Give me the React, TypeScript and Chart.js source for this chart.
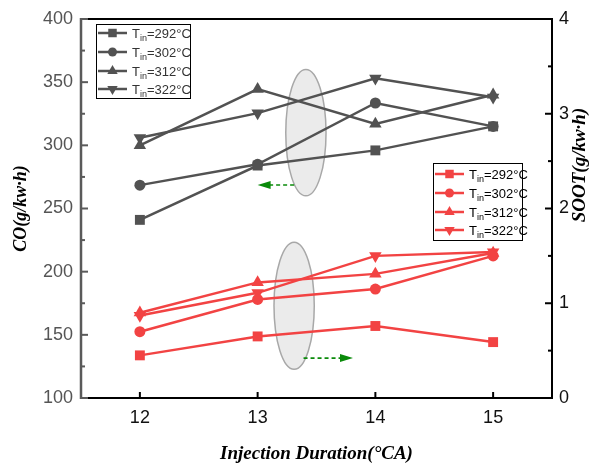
import React, { useEffect, useRef } from 'react';
import { Chart, registerables } from 'chart.js';

Chart.register(...registerables);

// ---- data ----
const injectionDuration = [12, 13, 14, 15];
const xTickValues = [12, 13, 14, 15];
const tinLabels = ['292', '302', '312', '322'];
const co292 = [241, 284, 296, 315];
const co302 = [268.5, 285, 333.5, 315];
const co312 = [300, 344.5, 317, 340];
const co322 = [306, 325.5, 353, 338];
const soot292 = [0.45, 0.65, 0.76, 0.59];
const soot302 = [0.7, 1.04, 1.15, 1.5];
const soot312 = [0.9, 1.22, 1.31, 1.53];
const soot322 = [0.87, 1.11, 1.5, 1.54];

const GRAY = '#525252';
const RED = '#f24343';
const GREEN = '#0a8a0a';

const markerStyles = ['rect', 'circle', 'triangle', 'triangle'];
const markerRot = [0, 0, 0, 180];
const markerRadius = [7, 5.5, 7.2, 7.2];

const toXY = (ys: number[]) => ys.map((y, i) => ({ x: injectionDuration[i], y }));

function drawMarker(ctx: CanvasRenderingContext2D, kind: number, x: number, y: number, r: number) {
  ctx.beginPath();
  if (kind === 0) {
    const s = r * Math.SQRT1_2;
    ctx.rect(x - s, y - s, 2 * s, 2 * s);
  } else if (kind === 1) {
    ctx.arc(x, y, r, 0, Math.PI * 2);
  } else {
    const d = kind === 2 ? 1 : -1;
    ctx.moveTo(x, y - d * r);
    ctx.lineTo(x + r * 0.866, y + d * r * 0.5);
    ctx.lineTo(x - r * 0.866, y + d * r * 0.5);
    ctx.closePath();
  }
  ctx.fill();
}

function drawLegend(ctx: CanvasRenderingContext2D, bx: number, by: number, bw: number, bh: number, color: string, textColor: string, rows: number[]) {
  ctx.save();
  ctx.fillStyle = '#fff';
  ctx.fillRect(bx, by, bw, bh);
  ctx.strokeStyle = '#000';
  ctx.lineWidth = 1;
  ctx.strokeRect(bx + 0.5, by + 0.5, bw, bh);
  tinLabels.forEach((t, i) => {
    const y = rows[i];
    const lx0 = bx + 2;
    const lx1 = bx + 31;
    const mx = (lx0 + lx1) / 2;
    ctx.strokeStyle = color;
    ctx.lineWidth = 2.5;
    ctx.beginPath();
    ctx.moveTo(lx0, y);
    ctx.lineTo(lx1, y);
    ctx.stroke();
    ctx.fillStyle = color;
    drawMarker(ctx, i, mx, y, i === 1 ? 4.5 : 6);
    ctx.fillStyle = textColor;
    ctx.textBaseline = 'alphabetic';
    ctx.textAlign = 'left';
    let tx = bx + 36;
    ctx.font = '13px "Liberation Sans", Arial, sans-serif';
    ctx.fillText('T', tx, y + 5);
    tx += ctx.measureText('T').width;
    ctx.font = '9px "Liberation Sans", Arial, sans-serif';
    ctx.fillText('in', tx, y + 8);
    tx += ctx.measureText('in').width;
    ctx.font = '13px "Liberation Sans", Arial, sans-serif';
    ctx.fillText('=' + t + '°C', tx, y + 5);
  });
  ctx.restore();
}

function drawArrow(ctx: CanvasRenderingContext2D, x0: number, y: number, x1: number) {
  const dir = x1 > x0 ? 1 : -1;
  ctx.save();
  ctx.strokeStyle = GREEN;
  ctx.fillStyle = GREEN;
  ctx.lineWidth = 1.6;
  ctx.setLineDash([4, 3]);
  ctx.beginPath();
  ctx.moveTo(x0, y);
  ctx.lineTo(x1 - dir * 10, y);
  ctx.stroke();
  ctx.setLineDash([]);
  ctx.beginPath();
  ctx.moveTo(x1, y);
  ctx.lineTo(x1 - dir * 13, y - 4);
  ctx.lineTo(x1 - dir * 13, y + 4);
  ctx.closePath();
  ctx.fill();
  ctx.restore();
}

const decorPlugin = {
  id: 'decor',
  beforeDatasetsDraw(chart: any) {
    const { ctx, scales } = chart;
    const x = scales.x, y = scales.y;
    const ell = (cx: number, cy: number, rxu: number, ryu: number) => {
      const px = x.getPixelForValue(cx);
      const py = y.getPixelForValue(cy);
      const rx = Math.abs(x.getPixelForValue(cx + rxu) - px);
      const ry = Math.abs(y.getPixelForValue(cy + ryu) - py);
      ctx.save();
      ctx.beginPath();
      ctx.ellipse(px, py, rx, ry, 0, 0, Math.PI * 2);
      ctx.fillStyle = '#ebebeb';
      ctx.fill();
      ctx.strokeStyle = '#a8a8a8';
      ctx.lineWidth = 1.5;
      ctx.stroke();
      ctx.restore();
    };
    ell(13.41, 310, 0.171, 50);
    ell(13.31, 173, 0.171, 50.3);
  },
  afterDraw(chart: any) {
    const { ctx, chartArea: a, scales } = chart;
    const x = scales.x, y = scales.y, y2 = scales.y2;
    ctx.save();
    drawArrow(ctx, x.getPixelForValue(13.31), y.getPixelForValue(268.6), x.getPixelForValue(13.0));
    drawArrow(ctx, x.getPixelForValue(13.39), y.getPixelForValue(131.6), x.getPixelForValue(13.81));
    ctx.lineCap = 'butt';
    ctx.strokeStyle = '#000';
    ctx.lineWidth = 2;
    ctx.beginPath();
    ctx.moveTo(a.left, a.top);
    ctx.lineTo(a.right, a.top);
    ctx.lineTo(a.right, a.bottom);
    ctx.lineTo(a.left, a.bottom);
    ctx.stroke();
    xTickValues.forEach((v) => {
      const px = x.getPixelForValue(v);
      ctx.beginPath();
      ctx.moveTo(px, a.bottom);
      ctx.lineTo(px, a.bottom - 6);
      ctx.stroke();
    });
    for (let v = 0; v <= 4; v += 0.5) {
      const py = y2.getPixelForValue(v);
      const len = Number.isInteger(v) ? 7 : 4;
      ctx.beginPath();
      ctx.moveTo(a.right, py);
      ctx.lineTo(a.right - len, py);
      ctx.stroke();
    }
    ctx.strokeStyle = '#5a5a5a';
    ctx.lineWidth = 2.5;
    ctx.beginPath();
    ctx.moveTo(a.left, a.top - 1);
    ctx.lineTo(a.left, a.bottom + 1);
    ctx.stroke();
    ctx.lineWidth = 2;
    for (let v = 100; v <= 400; v += 25) {
      const py = y.getPixelForValue(v);
      const len = v % 50 === 0 ? 7 : 4;
      ctx.beginPath();
      ctx.moveTo(a.left, py);
      ctx.lineTo(a.left + len, py);
      ctx.stroke();
    }
    ctx.save();
    ctx.translate(580, 165);
    ctx.rotate(-Math.PI / 2);
    ctx.fillStyle = '#000';
    ctx.font = 'italic bold 19px "Liberation Serif", "Times New Roman", serif';
    ctx.textAlign = 'center';
    ctx.textBaseline = 'middle';
    ctx.fillText('SOOT(g/kw·h)', 0, 0);
    ctx.restore();
    drawLegend(ctx, 96, 24, 94, 74, GRAY, '#333', [33, 52, 71, 89]);
    drawLegend(ctx, 433, 163, 89, 77, RED, '#000', [174, 193, 212, 230]);
    ctx.restore();
  },
};

export default function App() {
  const ref = useRef<HTMLCanvasElement | null>(null);
  useEffect(() => {
    document.body.style.margin = '0';
    if (!ref.current) return;
    const coSets = [co292, co302, co312, co322];
    const sootSets = [soot292, soot302, soot312, soot322];
    const datasets: any[] = [];
    coSets.forEach((s, i) => {
      datasets.push({
        label: 'CO ' + tinLabels[i],
        data: toXY(s),
        yAxisID: 'y',
        borderColor: GRAY,
        backgroundColor: GRAY,
        borderWidth: 2.5,
        pointStyle: markerStyles[i],
        pointRotation: markerRot[i],
        pointRadius: markerRadius[i],
        pointBorderWidth: 0,
        tension: 0,
      });
    });
    sootSets.forEach((s, i) => {
      datasets.push({
        label: 'SOOT ' + tinLabels[i],
        data: toXY(s),
        yAxisID: 'y2',
        borderColor: RED,
        backgroundColor: RED,
        borderWidth: 2.5,
        pointStyle: markerStyles[i],
        pointRotation: markerRot[i],
        pointRadius: markerRadius[i],
        pointBorderWidth: 0,
        tension: 0,
      });
    });
    const tickFont = { family: '"Liberation Sans", Arial, sans-serif', size: 18 };
    const titleFont = { family: '"Liberation Serif", "Times New Roman", serif', size: 18, style: 'italic' as const, weight: 'bold' as const };
    const xTitleFont = { ...titleFont, size: 19 };
    const chart = new Chart(ref.current, {
      type: 'line',
      data: { datasets },
      plugins: [decorPlugin],
      options: {
        responsive: false,
        animation: false,
        layout: { padding: { top: 19, left: 0, right: 0, bottom: 0 } },
        plugins: { legend: { display: false }, tooltip: { enabled: false } },
        scales: {
          x: {
            type: 'linear',
            min: 11.5,
            max: 15.5,
            afterBuildTicks: (s: any) => {
              s.ticks = xTickValues.map((v) => ({ value: v }));
            },
            afterFit: (s: any) => {
              s.height = 67;
            },
            grid: { display: false, drawTicks: false },
            border: { display: false },
            ticks: { font: tickFont, color: '#111', padding: 9 },
            title: { display: true, text: 'Injection Duration(°CA)', font: xTitleFont, color: '#000', padding: { top: 0, bottom: 0 } },
          },
          y: {
            position: 'left',
            min: 100,
            max: 400,
            ticks: { stepSize: 50, font: tickFont, color: '#555', padding: 8 },
            afterFit: (s: any) => {
              s.width = 81;
            },
            grid: { display: false, drawTicks: false },
            border: { display: false },
            title: { display: true, text: 'CO(g/kw·h)', font: titleFont, color: '#000', padding: { top: 11, bottom: 0 } },
          },
          y2: {
            position: 'right',
            min: 0,
            max: 4,
            ticks: { stepSize: 1, font: tickFont, color: '#111', padding: 7 },
            afterFit: (s: any) => {
              s.width = 39;
            },
            grid: { display: false, drawTicks: false },
            border: { display: false },
          },
        },
      },
    });
    return () => chart.destroy();
  }, []);
  return (
    <div style={{ position: 'absolute', left: 0, top: 0, width: 591, height: 465 }}>
      <canvas ref={ref} width={591} height={465} style={{ display: 'block' }} />
    </div>
  );
}
